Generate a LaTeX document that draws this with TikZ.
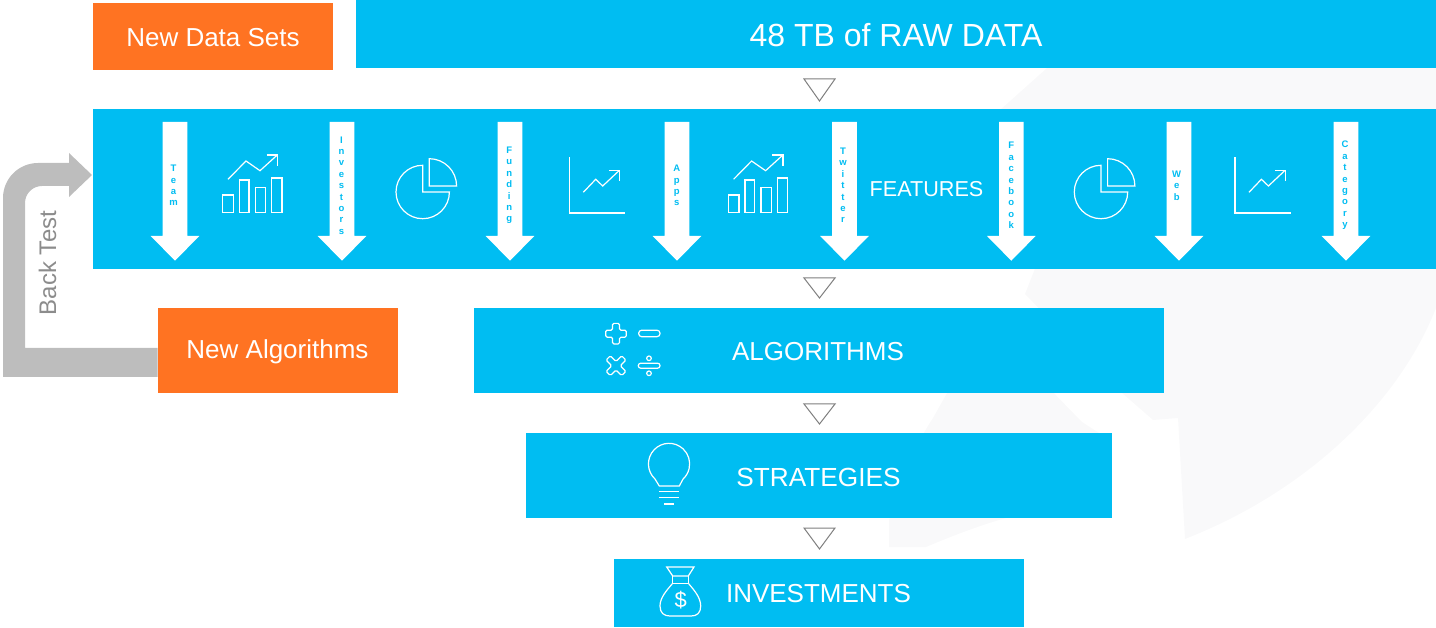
\documentclass[tikz,border=0pt]{standalone}
\usepackage{fontspec}
\setmainfont{Liberation Sans}
\definecolor{skyb}{HTML}{00BDF2}
\definecolor{orng}{HTML}{FF7322}
\definecolor{backg}{HTML}{BDBDBD}
\definecolor{backt}{HTML}{8C8C8C}
\definecolor{wmark}{HTML}{F9F9FA}
\definecolor{trig}{HTML}{7F7F7F}
\tikzset{
  box/.style={rectangle,inner sep=0pt,outer sep=0pt,text=white},
  bluebox/.style={box,fill=skyb},
  orangebox/.style={box,fill=orng},
  icon/.style={draw=white,line width=1.2pt,line join=miter},
  fatarrow/.style={fill=white,draw=none},
  vlabel/.style={text=skyb,font=\fontsize{9.5}{11.4}\selectfont\bfseries,align=center,inner sep=0pt},
  sep/.style={draw=trig,line width=1pt,fill=white},
  pics/downarrow/.style n args={2}{code={
    \path[fatarrow] (-12.3,122)--(12.3,122)--(12.3,236)--(24.3,236)--(0,260.7)--(-24.3,236)--(-12.3,236)--cycle;
    \node[vlabel] at (#2,185.5) {#1};
  }},
  pics/barchart/.style={code={
    \draw[icon] (0,0) rectangle (10.6,-17.7);
    \draw[icon] (16.6,0) rectangle (26.3,-32.7);
    \draw[icon] (32.6,0) rectangle (43,-25);
    \draw[icon] (49,0) rectangle (59.3,-34.7);
    \draw[icon] (5.3,-33.4)--(23.3,-51.7)--(37.3,-42)--(54.6,-57.7);
    \draw[icon] (44,-57.7)--(54.6,-57.7)--(54.6,-47);
  }},
  pics/piechart/.style={code={
    \draw[icon] (0,-26.7) arc (270:0:26.7)--(0,0)--cycle;
    \draw[icon] (6.6,-33.3) arc (270:360:27.3)--(6.6,-6)--cycle;
  }},
  pics/linechart/.style={code={
    \draw[icon] (0,0)--(0,55.7)--(55.7,55.7);
    \draw[icon] (14,35)--(26.4,22)--(33.4,28.7)--(49.7,13.4);
    \draw[icon] (40,13.4)--(50.4,13.4)--(50.4,23.7);
  }}
}
\begin{document}
\begin{tikzpicture}[x=1pt,y=-1pt]
\useasboundingbox (0,0) rectangle (1436,628);
% watermark
\fill[wmark] (1047,68)--(1436,68)--(1436,308)
  .. controls (1400,400) and (1310,490) .. (1185,539)
  --(1178,418)--(1153,420)--(1114,386)--(1025,294)--(1036,266)--(1000,110)--cycle;
\fill[wmark] (951,386)--(1047,386)--(1082,422)--(1110,440)--(1110,500)
  .. controls (1040,505) and (990,520) .. (926,547)--(889,547)--(889,521)
  .. controls (900,480) and (915,445) .. (933,418)--cycle;
% boxes
\node[orangebox,minimum width=240,minimum height=67] (newdata) at (213,36.5) {};
\node[box,font=\fontsize{26}{31}\selectfont] (newdatat) at (213,37.5) {New Data Sets};
\node[bluebox,minimum width=1080,minimum height=68] (raw) at (896,34) {};
\node[box,font=\fontsize{32}{38}\selectfont] (rawt) at (896,35) {48 TB of RAW DATA};
\node[bluebox,minimum width=1343,minimum height=160] (features) at (764.5,189) {};
\node[box,font=\fontsize{21.6}{25}\selectfont] (featlabel) at (926.5,189) {FEATURES};
\node[orangebox,minimum width=240.5,minimum height=85] (newalg) at (277.75,350.5) {};
\node[box,font=\fontsize{26}{31}\selectfont] (newalgt) at (277.5,351.5) {New Algorithms};
\node[bluebox,minimum width=690,minimum height=85] (alg) at (819,350.5) {};
\node[box,font=\fontsize{26}{31}\selectfont] (algt) at (818,351.5) {ALGORITHMS};
\node[bluebox,minimum width=586,minimum height=85] (strat) at (819,475.5) {};
\node[box,font=\fontsize{26.2}{31}\selectfont] (stratt) at (818.5,477) {STRATEGIES};
\node[bluebox,minimum width=410,minimum height=68] (invest) at (819,593) {};
\node[box,font=\fontsize{26}{31}\selectfont] (investt) at (818.5,594) {INVESTMENTS};
% separators
\foreach \name/\yt/\yb in {a/79/101,b/278/298,c/404/424,d/528/549}{
  \draw[sep] (804,\yt)--(835,\yt)--(819.5,\yb)--cycle;
}
% back test arrow
\coordinate (bttip) at (92,175);
\fill[backg] (newalg.west |- 0,348) -- (25,348) -- (25,203) arc (180:270:17) -- (69,186) -- (69,197) -- (bttip) -- (69,153) -- (69,163) -- (38,163) arc (270:180:35) -- (3,377) -- (newalg.west |- 0,377) -- cycle;
\node[text=backt,rotate=90,font=\fontsize{24}{29}\selectfont,inner sep=0pt] (backtest) at (47.5,263) {Back Test};
% fat arrows
\pic at (175,0) {downarrow={T\\e\\a\\m}{-1.5}};
\pic at (342,0) {downarrow={I\\n\\v\\e\\s\\t\\o\\r\\s}{-0.5}};
\pic at (510,0) {downarrow={F\\u\\n\\d\\i\\n\\g}{-0.7}};
\pic at (677,0) {downarrow={A\\p\\p\\s}{-0.3}};
\pic at (844.5,0) {downarrow={T\\w\\i\\t\\t\\e\\r}{-1.5}};
\pic at (1011.3,0) {downarrow={F\\a\\c\\e\\b\\o\\o\\k}{0}};
\pic at (1179,0) {downarrow={W\\e\\b}{-2.3}};
\pic at (1346,0) {downarrow={C\\a\\t\\e\\g\\o\\r\\y}{-1}};
% feature icons
\pic at (222.7,212.7) {barchart};
\pic at (728.3,212.7) {barchart};
\pic at (422.7,192) {piechart};
\pic at (1101,192) {piechart};
\pic at (569.3,157.3) {linechart};
\pic at (1235,157.3) {linechart};
% algorithm icons
\draw[icon,rounded corners=1.4pt] (612.5,323.4)--(619.5,323.4)--(619.5,330.2)--(626.3,330.2)--(626.3,337.2)--(619.5,337.2)--(619.5,344)--(612.5,344)--(612.5,337.2)--(605.7,337.2)--(605.7,330.2)--(612.5,330.2)--cycle;
\draw[icon,rounded corners=3pt] (638.7,330.2) rectangle (660,336.7);
\begin{scope}[shift={(616,365.7)},rotate=45]
\draw[icon,rounded corners=1.4pt] (-3,-11)--(3,-11)--(3,-3)--(11,-3)--(11,3)--(3,3)--(3,11)--(-3,11)--(-3,3)--(-11,3)--(-11,-3)--(-3,-3)--cycle;
\end{scope}
\draw[icon,rounded corners=2.4pt] (638.3,363.2) rectangle (660,368.2);
\draw[icon] (649,358.3) circle[radius=2.3];
\draw[icon] (649,373.3) circle[radius=2.3];
% bulb
\draw[icon] (659.3,486)--(655,479) arc (133:407:20.6)--(679.3,486)--cycle;
\draw[icon] (659.3,491.7)--(679.3,491.7);
\draw[icon] (659.3,497.7)--(679.3,497.7);
\draw[icon] (664.3,504)--(674,504);
% money bag
\draw[icon] (666.7,567)--(694,567)--(688.3,576)--(672.7,576)--cycle;
\draw[icon] (672.7,576)--(672.7,583.3)--(688.3,583.3)--(688.3,576);
\draw[icon] (672.7,583.3) .. controls (666,591) and (660,598) .. (660,606)
  .. controls (660,613) and (664,616) .. (670,616)--(691,616)
  .. controls (697,616) and (700.7,613) .. (700.7,606)
  .. controls (700.7,598) and (695,591) .. (688.3,583.3);
\node[text=white,font=\fontsize{22}{26}\selectfont,inner sep=0pt] (dollar) at (680.7,600) {\$};
\end{tikzpicture}
\end{document}
